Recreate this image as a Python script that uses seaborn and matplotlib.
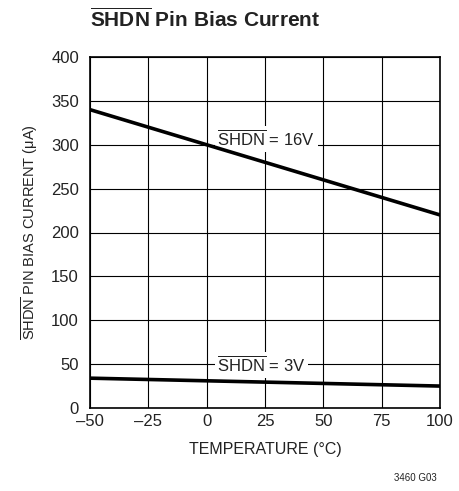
import numpy as np
import pandas as pd
import seaborn as sns
import matplotlib
matplotlib.use("Agg")
from matplotlib import pyplot as plt

# data
temp = [-50, 100]
i_16v = [340, 220]
i_3v = [34, 25]
xticks = [-50, -25, 0, 25, 50, 75, 100]
yticks = [0, 50, 100, 150, 200, 250, 300, 350, 400]

sns.set_theme(style="white")
plt.rcParams['font.family'] = ['Liberation Sans', 'DejaVu Sans']
plt.rcParams['mathtext.fontset'] = 'custom'
plt.rcParams['mathtext.rm'] = 'Liberation Sans'
plt.rcParams['mathtext.bf'] = 'Liberation Sans:bold'

df = pd.DataFrame({"T": temp * 2, "I": i_16v + i_3v,
                   "cond": ["16V"] * 2 + ["3V"] * 2})

fig = plt.figure(figsize=(4.59, 4.91), dpi=100)
ax = fig.add_axes([90/459, 1-408/491, 350/459, 351/491])
sns.lineplot(data=df, x="T", y="I", units="cond", estimator=None,
             color="black", lw=2.6, ax=ax, zorder=5)

ax.set_xlim(-50, 100)
ax.set_ylim(0, 400)
ax.set_xticks(xticks)
ax.set_xticklabels([str(t).replace("-", "\u2013") for t in xticks])
ax.set_yticks(yticks)
ax.grid(True, color="black", lw=0.8)
for s in ax.spines.values():
    s.set_color("black")
    s.set_linewidth(1.2)
ax.tick_params(axis="both", length=0, labelsize=12, colors="#222222")
ax.tick_params(axis="y", pad=8)
ax.tick_params(axis="x", pad=4)
ax.set_xlabel("TEMPERATURE (\u00b0C)", fontsize=11.5, color="#222222", labelpad=10)
ax.set_ylabel(r"$\overline{\mathrm{SHDN}}$ PIN BIAS CURRENT (" + "\u03bcA)",
              fontsize=10.5, color="#222222", labelpad=8)

bb = dict(facecolor="white", edgecolor="none", pad=2)
ax.text(25.5, 307, r"$\overline{\mathrm{SHDN}}$ = 16V", fontsize=12, ha="center",
        va="center", color="#222222", bbox=bb, zorder=4)
ax.text(23.5, 49, r"$\overline{\mathrm{SHDN}}$ = 3V", fontsize=12, ha="center",
        va="center", color="#222222", bbox=bb, zorder=4)

fig.text(90/459, 1-19/491, r"$\overline{\mathbf{SHDN}}$ Pin Bias Current",
         fontsize=15, fontweight="bold", ha="left", va="center", color="#222222")
fig.text(437/459, 1-478/491, "3460 G03", fontsize=7, ha="right", va="center",
         color="#222222")

fig.savefig("out.png", dpi=100)
